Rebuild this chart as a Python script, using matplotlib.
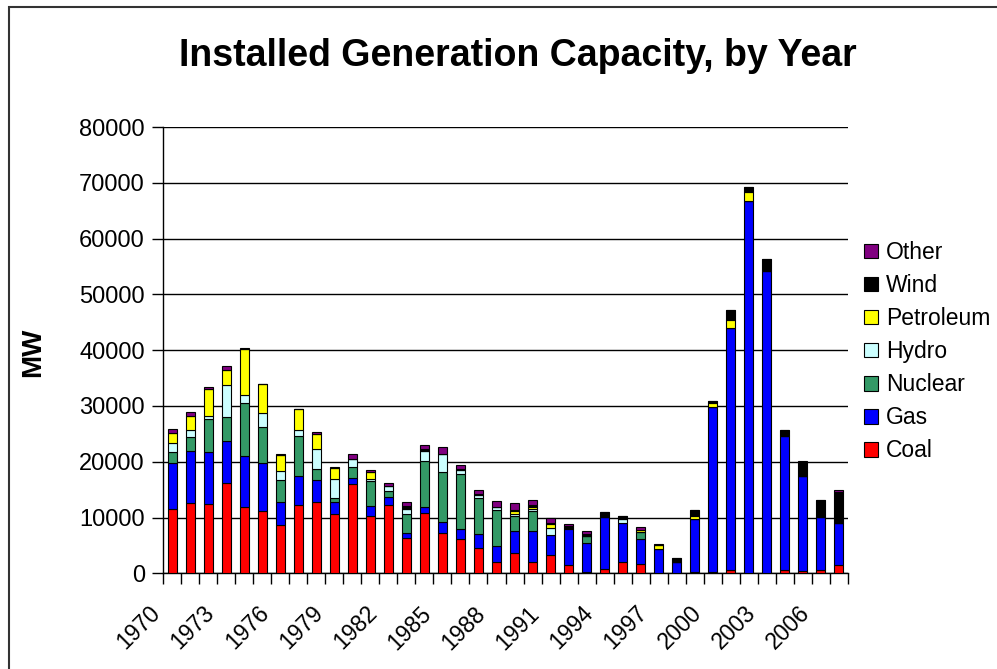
import numpy as np
import matplotlib.pyplot as plt
import matplotlib.patches as mpatches
import matplotlib.transforms as mtrans

plt.rcParams['font.family'] = ['Liberation Sans', 'DejaVu Sans']

years = list(range(1970, 2008))

coal = [11600, 12650, 12400, 16100, 11800, 11200, 8600, 12250, 12850, 10550,
        15950, 10250, 12200, 6250, 10850, 7150, 6150, 4500, 1950, 3600,
        2100, 3300, 1500, 150, 850, 2000, 1650, 0, 0, 300,
        200, 600, 0, 0, 600, 400, 600, 1500]
gas = [8200, 9300, 9300, 7700, 9150, 8500, 4250, 5250, 3900, 2150,
       1200, 1800, 1400, 1000, 1100, 2100, 1800, 2500, 3000, 4000,
       5500, 3650, 6400, 5300, 9300, 7000, 4500, 4400, 2100, 9450,
       29650, 43400, 66700, 54100, 24000, 17100, 9550, 7600]
nuclear = [1900, 2400, 5900, 4250, 9500, 6500, 3900, 7100, 2000, 850,
           1950, 4500, 1200, 3450, 8200, 8850, 9800, 6450, 6400, 2700,
           3650, 0, 300, 1300, 0, 0, 1200, 0, 0, 0,
           0, 0, 0, 0, 0, 0, 0, 0]
hydro = [1700, 1400, 600, 5650, 1500, 2500, 1600, 1000, 3600, 3350,
         1400, 400, 850, 800, 1800, 3300, 800, 500, 600, 300,
         350, 1250, 0, 0, 0, 700, 0, 0, 0, 0,
         0, 0, 0, 0, 0, 0, 0, 0]
petroleum = [1750, 2400, 4800, 2750, 8300, 5150, 2850, 3800, 2700, 1950,
             0, 1150, 0, 0, 0, 0, 0, 0, 0, 550,
             350, 700, 0, 0, 0, 0, 400, 700, 0, 500,
             700, 1400, 1600, 300, 200, 0, 0, 0]
wind = [0, 0, 0, 0, 0, 0, 0, 0, 0, 0,
        0, 0, 0, 550, 400, 0, 200, 250, 0, 200,
        350, 200, 300, 300, 900, 600, 0, 0, 700, 1100,
        350, 1800, 1000, 1900, 900, 2500, 3000, 5550]
other = [650, 850, 350, 650, 200, 150, 200, 100, 250, 250,
         850, 400, 600, 700, 600, 1200, 650, 700, 1050, 1300,
         800, 900, 300, 450, 0, 0, 500, 100, 0, 0,
         0, 0, 0, 0, 0, 100, 0, 200]

series = [("Coal", coal, "#ff0000"),
          ("Gas", gas, "#0000ff"),
          ("Nuclear", nuclear, "#339966"),
          ("Hydro", hydro, "#ccffff"),
          ("Petroleum", petroleum, "#ffff00"),
          ("Wind", wind, "#000000"),
          ("Other", other, "#800080")]

W, H = 997, 669
fig = plt.figure(figsize=(W / 100, H / 100), dpi=100)
ax = fig.add_axes([163 / W, 1 - 573.3 / H, (848 - 163) / W, (573.3 - 127) / H])

x = np.arange(len(years))
bottom = np.zeros(len(years))
handles = []
for name, vals, col in series:
    v = np.array(vals, dtype=float)
    ax.bar(x, v, 0.5, bottom=bottom, color=col, edgecolor='black', linewidth=0.8, zorder=3)
    bottom += v
    handles.append(mpatches.Patch(facecolor=col, edgecolor='black', linewidth=0.8, label=name))

ax.set_xlim(-0.5, len(years) - 0.5)
ax.set_ylim(0, 80000)
ax.set_yticks(np.arange(0, 80001, 10000))
ax.yaxis.grid(True, color='black', linewidth=1, zorder=0)
ax.set_axisbelow(True)
ax.tick_params(axis='y', direction='out', length=8, width=1, labelsize=17, pad=5)
ax.set_xticks(np.arange(-0.5, len(years), 1))
ax.tick_params(axis='x', direction='out', length=8, width=1, labelbottom=False)
for s in ['top', 'right']:
    ax.spines[s].set_visible(False)
for s in ['left', 'bottom']:
    ax.spines[s].set_color('black')
    ax.spines[s].set_linewidth(1)

# rotated year labels, every third year
off = mtrans.ScaledTranslation(-15 / 100, 0, fig.dpi_scale_trans)
for i, yr in enumerate(years):
    if (yr - 1970) % 3 == 0:
        ax.text(i, -0.082, str(yr), transform=ax.get_xaxis_transform() + off,
                rotation=45, rotation_mode='anchor', ha='right', va='center', fontsize=16.5)

fig.text(33 / W, 1 - 352 / H, "MW", rotation=90, ha='center', va='center',
         fontsize=20, fontweight='bold')

fig.text(518 / W, 1 - 56 / H, "Installed Generation Capacity, by Year",
         ha='center', va='center', fontsize=27, fontweight='bold')

fig.legend(handles=handles[::-1], loc='upper left', bbox_to_anchor=(864 / W, 1 - 241 / H),
           frameon=False, fontsize=16.5, handlelength=0.6, handleheight=0.6,
           handletextpad=0.35, labelspacing=0.44, borderaxespad=0, borderpad=0)

fig.patches.append(mpatches.Rectangle((9 / W, -0.05), 1.1, 1 - 7 / H + 0.05, fill=False,
                                      edgecolor='#333333', linewidth=1.5,
                                      transform=fig.transFigure, figure=fig))

fig.savefig("out.png", dpi=100)
